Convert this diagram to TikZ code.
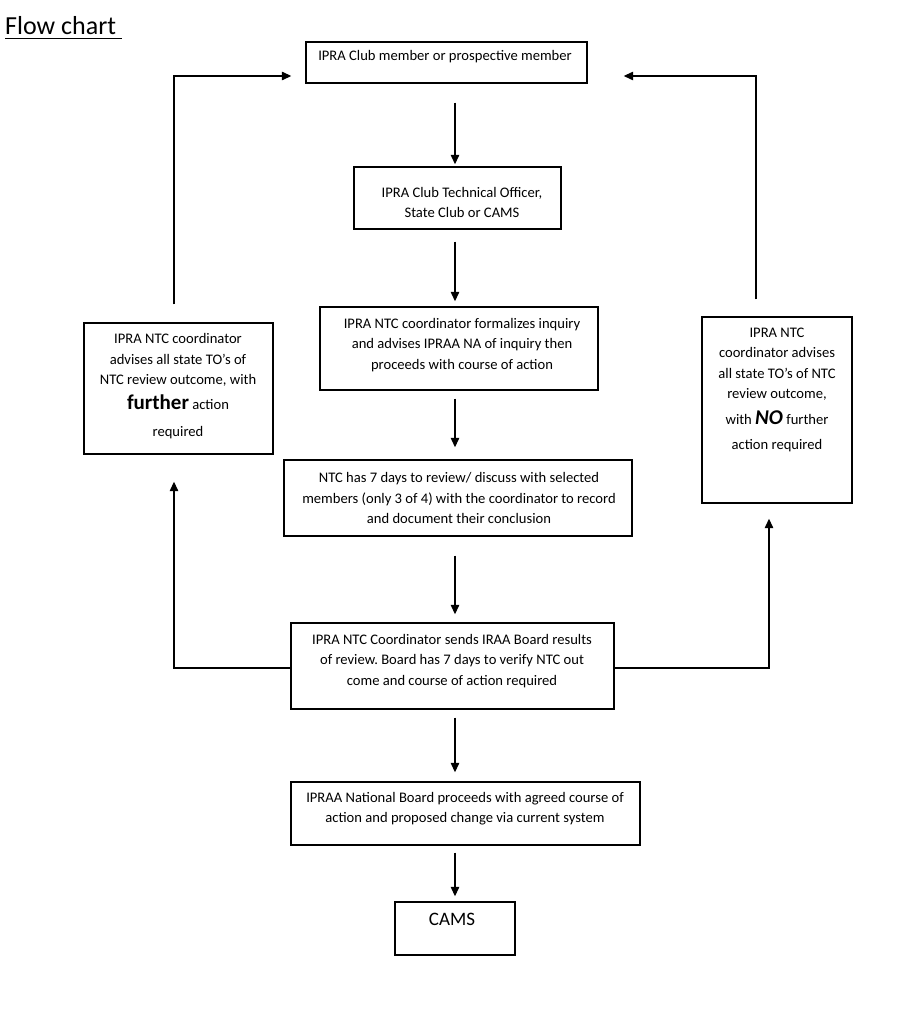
\documentclass[tikz,border=0pt]{standalone}
\usepackage{fontspec}
\setmainfont{Carlito}
\usetikzlibrary{arrows.meta}
\frenchspacing
\begin{document}
\begin{tikzpicture}[x=1pt,y=-1pt,
  box/.style={draw, line width=1.4pt, inner sep=0pt, line join=miter},
  txt/.style={align=center, inner sep=0pt, font=\fontsize{14.6}{20.5}\selectfont},
  arr/.style={line width=1.3pt, -{Triangle[length=9.5pt,width=8.5pt]}}]
\useasboundingbox[fill=white] (0,0) rectangle (897,1024);
% title
\node[anchor=base west, inner sep=0pt, font=\fontsize{26}{30}\selectfont] (title) at (5,35) {Flow chart};
\draw[line width=1.3pt] (title.base west) ++(0,3.5) -- ++(117,0);
% boxes
\node[box, minimum width=281pt, minimum height=41pt] (top) at (446.5,62.5) {};
\node[box, minimum width=207pt, minimum height=62pt] (to) at (457.5,198) {};
\node[box, minimum width=278pt, minimum height=83pt] (form) at (459,348.5) {};
\node[box, minimum width=348pt, minimum height=76pt] (rev) at (458,498) {};
\node[box, minimum width=323pt, minimum height=86pt] (send) at (452.5,666) {};
\node[box, minimum width=349pt, minimum height=63pt] (board) at (465.5,813.5) {};
\node[box, minimum width=120pt, minimum height=53pt] (cams) at (455,928.5) {};
\node[box, minimum width=189pt, minimum height=131pt] (left) at (178.5,388.5) {};
\node[box, minimum width=150pt, minimum height=186pt] (right) at (777,410) {};
% texts
\node[txt] (topt) at (445,57) {IPRA Club member or prospective member};
\node[txt] (tot) at (462,202.5) {IPRA Club Technical Officer,\\ State Club or CAMS};
\node[txt] (formt) at (462,345) {IPRA NTC coordinator formalizes inquiry\\ and advises IPRAA NA of inquiry then\\ proceeds with course of action};
\node[txt] (revt) at (459,498) {NTC has 7 days to review/ discuss with selected\\ members (only 3 of 4) with the coordinator to record\\ and document their conclusion};
\node[txt] (sendt) at (452,661) {IPRA NTC Coordinator sends IRAA Board results\\ of review. Board has 7 days to verify NTC out\\ come and course of action required};
\node[txt] (boardt) at (465,808.5) {IPRAA National Board proceeds with agreed course of\\ action and proposed change via current system};
\node[txt, font=\fontsize{19}{22}\selectfont] (camst) at (452,919) {CAMS};
\node[txt] (leftt) at (178,386.5) {IPRA NTC coordinator\\ advises all state TO’s of\\ NTC review outcome, with\\[4.5pt] {\fontsize{21}{21}\selectfont\bfseries further} action\\[6.5pt] required};
\node[txt] (rightt) at (777,390) {IPRA NTC\\ coordinator advises\\ all state TO’s of NTC\\ review outcome,\\[5.5pt] with {\fontsize{21}{21}\selectfont\bfseries\itshape NO} further\\[4.5pt] action required};
% helper coordinates
\coordinate (ax) at (455,0);
\coordinate (lx) at (174,0);
\coordinate (rx) at (769,0);
\coordinate (rtx) at (756,0);
\coordinate (ly) at (0,76);
% main vertical arrows
\draw[arr] ([yshift=-19pt]top.south -| ax) -- ([yshift=2pt]to.north -| ax);
\draw[arr] ([yshift=-12pt]to.south -| ax) -- ([yshift=5pt]form.north -| ax);
\draw[arr] ([yshift=-8pt]form.south -| ax) -- ([yshift=12pt]rev.north -| ax);
\draw[arr] ([yshift=-19pt]rev.south -| ax) -- ([yshift=8pt]send.north -| ax);
\draw[arr] ([yshift=-8pt]send.south -| ax) -- ([yshift=9pt]board.north -| ax);
\draw[arr] ([yshift=-7pt]board.south -| ax) -- ([yshift=5pt]cams.north -| ax);
% side loops
\draw[arr] ([yshift=-2pt]send.west) -| ([yshift=-27pt]left.south -| lx);
\draw[arr] ([yshift=-2pt]send.east) -| ([yshift=-15pt]right.south -| rx);
\draw[arr] ([yshift=18pt]left.north -| lx) |- ([xshift=-14pt]top.west |- ly);
\draw[arr] ([yshift=17pt]right.north -| rtx) |- ([xshift=36pt]top.east |- ly);
\end{tikzpicture}
\end{document}
